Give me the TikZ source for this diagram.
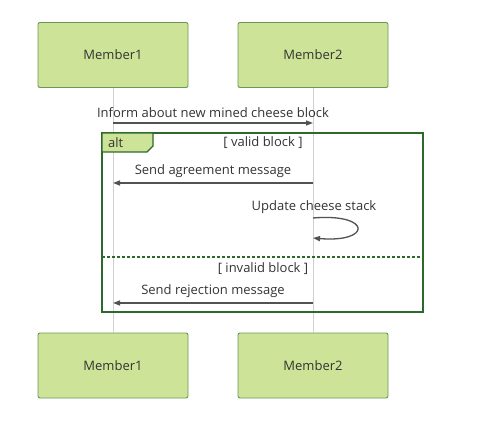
\documentclass[tikz,border=0pt]{standalone}
\usepackage{fontspec}
\setmainfont{Open Sans}
\usepackage{tikz}
\usetikzlibrary{arrows.meta, positioning, calc}
\definecolor{actfill}{RGB}{205,228,152}
\definecolor{actline}{RGB}{106,150,86}
\definecolor{frmline}{RGB}{45,105,45}
\definecolor{msgdark}{RGB}{51,51,51}
\definecolor{lifegray}{RGB}{208,208,208}
\tikzset{
  actor/.style={rectangle, draw=actline, fill=actfill, rounded corners=2pt,
    minimum width=150pt, minimum height=65pt, line width=0.9pt,
    font=\fontsize{13}{15}\selectfont, text=msgdark},
  msgtext/.style={font=\fontsize{13}{15}\selectfont, text=msgdark, inner sep=0pt},
  msg/.style={-{Triangle[length=7pt,width=5pt]}, line width=1.3pt, color=msgdark!85},
  life/.style={line width=0.9pt, color=lifegray},
  frame/.style={line width=1.2pt, draw=frmline}
}

\begin{document}
\begin{tikzpicture}[x=1pt, y=-1pt]
  \useasboundingbox (0,0) rectangle (489,422);
  % Actors
  \node[actor] (m1top) at (113,55) {Member1};
  \node[actor] (m2top) at (313,55) {Member2};
  \node[actor] (m1bot) at (113,365.5) {Member1};
  \node[actor] (m2bot) at (313,365.5) {Member2};

  % Lifelines
  \draw[life] (m1top.south) -- (m1bot.north);
  \draw[life] (m2top.south) -- (m2bot.north);

  % Inform
  \coordinate (a1) at (113,123); \coordinate (b1) at (313,123);
  \draw[msg] (a1) -- (b1) node[msgtext, midway, above=5pt] {Inform about new mined cheese block};

  % Alt frame
  \draw[frame] (102,133) rectangle (423,312);
  \draw[frame, fill=actfill] (102,133) -- (153,133) -- (153,146) -- (147,152) -- (102,152) -- cycle;
  \node[msgtext, anchor=west] (alttag) at (108,142.5) {alt};
  \node[msgtext] (valid) at (263,142.5) {[ valid block ]};

  % Agreement
  \coordinate (b2) at (313,183); \coordinate (a2) at (113,183);
  \draw[msg] (b2) -- (a2) node[msgtext, midway, above=5pt] {Send agreement message};

  % Update (self message)
  \coordinate (b3) at (313,218); \coordinate (b4) at (313,238);
  \node[msgtext] (upd) at (314,207) {Update cheese stack};
  \draw[msg] (b3) .. controls (372,213) and (372,243) .. (b4);

  % Else
  \draw[frame, dashed, dash pattern=on 3pt off 2pt] (102,257) -- (423,257);
  \node[msgtext] (invalid) at (263,269) {[ invalid block ]};

  % Rejection
  \coordinate (b5) at (313,303); \coordinate (a5) at (113,303);
  \draw[msg] (b5) -- (a5) node[msgtext, midway, above=5pt] {Send rejection message};
\end{tikzpicture}
\end{document}
